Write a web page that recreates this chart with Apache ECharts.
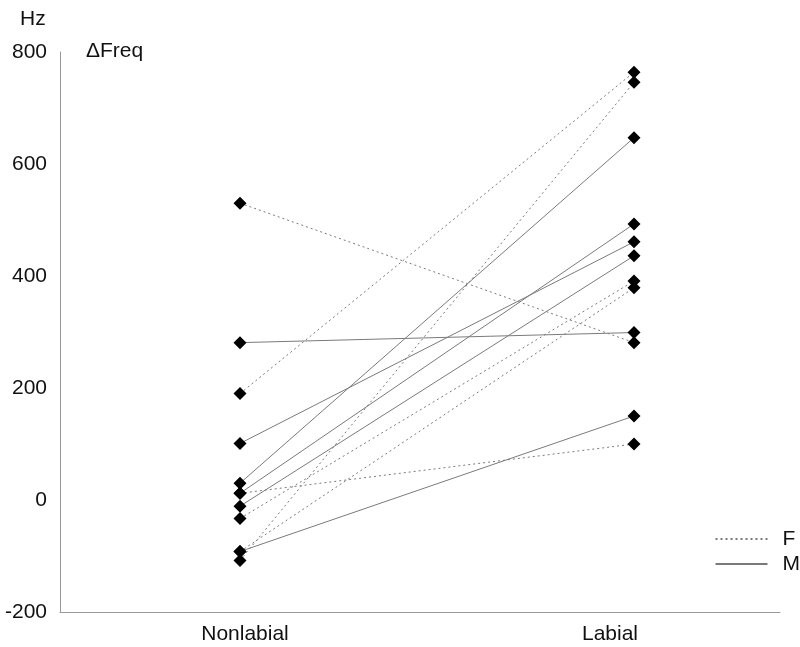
<!DOCTYPE html>
<html>
<head>
<meta charset="utf-8">
<script src="https://cdn.jsdelivr.net/npm/echarts@6/dist/echarts.min.js"></script>
<style>
  html, body { margin: 0; padding: 0; background: #fff; }
  #chart { width: 800px; height: 647px; }
</style>
</head>
<body>
<div id="chart"></div>
<script>
// Delta frequency (Hz) per speaker, Nonlabial -> Labial
const groups = ['Nonlabial', 'Labial'];
const yTicks = [-200, 0, 200, 400, 600, 800];

// F speakers (dotted)
const nonlabialF = [530, 190, 12, -108, -33, -92];
const labialF    = [281, 764, 100, 746, 391, 379];

// M speakers (solid)
const nonlabialM = [281, 101, 30, 12, -11, -92];
const labialM    = [299, 461, 647, 493, 436, 150];

// horizontal placement on a hidden 0..720 pixel-like scale
const posPoint = { Nonlabial: 180, Labial: 574 };
const posLabel = { Nonlabial: 185, Labial: 550 };

const chart = echarts.init(document.getElementById('chart'));
const font = 'Liberation Sans, Arial, sans-serif';

let series = [];
function addGroup(name, before, after, dashed) {
    for (let i = 0; i < before.length; i++) {
        series.push({
            name: name,
            type: 'line',
            data: [[posPoint.Nonlabial, before[i]], [posPoint.Labial, after[i]]],
            symbol: 'diamond',
            symbolSize: 13,
            itemStyle: { color: '#000' },
            lineStyle: { color: '#7a7a7a', width: 1, type: dashed ? [2, 3] : 'solid' },
            emphasis: { disabled: true },
            z: 2
        });
    }
}
addGroup('F', nonlabialF, labialF, true);
addGroup('M', nonlabialM, labialM, false);

const option = {
    animation: false,
    textStyle: { fontFamily: font },
    title: [
        { text: 'Hz', left: 15, top: 4, textStyle: { fontSize: 21, fontWeight: 'normal', color: '#111', fontFamily: font } },
        { text: '\u0394Freq', left: 81, top: 36, textStyle: { fontSize: 21, fontWeight: 'normal', color: '#111', fontFamily: font } }
    ],
    legend: {
        orient: 'vertical',
        right: 0,
        top: 527,
        padding: 0,
        itemWidth: 52,
        itemHeight: 14,
        itemGap: 1,
        data: ['F', 'M'],
        itemStyle: { opacity: 0 },
        textStyle: { fontSize: 21, lineHeight: 24, color: '#111', fontFamily: font, padding: [0, 0, 0, 10] }
    },
    grid: { left: 60, right: 20, top: 52, bottom: 35, containLabel: false },
    xAxis: {
        type: 'value',
        min: 0,
        max: 720,
        interval: 5,
        axisLine: { show: true, onZero: false, lineStyle: { color: '#999', width: 1 } },
        axisTick: { show: false },
        splitLine: { show: false },
        axisLabel: {
            margin: 12,
            fontSize: 21,
            color: '#111',
            fontFamily: font,
            showMinLabel: true,
            showMaxLabel: true,
            formatter: function (v) {
                for (const g of groups) {
                    if (v === posLabel[g]) return g;
                }
                return '';
            }
        }
    },
    yAxis: {
        type: 'value',
        min: yTicks[0],
        max: yTicks[yTicks.length - 1],
        interval: 200,
        axisLine: { show: true, onZero: false, lineStyle: { color: '#999', width: 1 } },
        axisTick: { show: false },
        splitLine: { show: false },
        axisLabel: { margin: 13, fontSize: 21, color: '#111', fontFamily: font, padding: [0, 0, 8, 0] }
    },
    series: series
};

chart.setOption(option);
</script>
</body>
</html>
